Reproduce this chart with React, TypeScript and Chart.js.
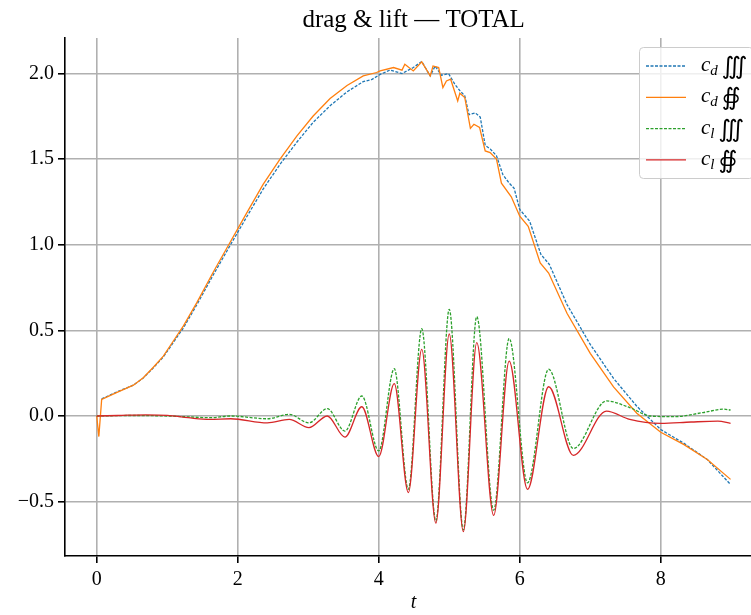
import React, { useEffect, useRef } from "react";
import { Chart, registerables } from "chart.js";

Chart.register(...registerables);

const TITLE = "drag & lift — TOTAL";
const X_LABEL = "t";
const X_TICKS = [0, 2, 4, 6, 8];
const Y_TICKS = [-0.5, 0, 0.5, 1.0, 1.5, 2.0];
const X_MIN = -0.45;
const X_MAX = 9.28;
const Y_MIN = -0.8175;
const Y_MAX = 2.2075;

const seriesLabels = ["c_d ∭", "c_d ∯", "c_l ∭", "c_l ∯"];
const seriesColors = ["#1f77b4", "#ff7f0e", "#2ca02c", "#d62728"];

// c_d volume (dashed blue)
const tCdVol = [0.07, 0.28, 0.52, 0.66, 0.8, 0.945, 1.087, 1.23, 1.42, 1.65, 1.89, 2.13, 2.36, 2.6, 2.84, 3.07, 3.31, 3.55, 3.78, 3.9, 4.02, 4.16, 4.33, 4.49, 4.61, 4.73, 4.8, 4.89, 4.99, 5.08, 5.15, 5.22, 5.28, 5.37, 5.44, 5.51, 5.58, 5.67, 5.76, 5.85, 5.92, 6.0, 6.14, 6.3, 6.42, 6.67, 7.0, 7.33, 7.66, 8.0, 8.33, 8.66, 8.99];
const cdVol = [0.1, 0.14, 0.18, 0.222, 0.28, 0.345, 0.43, 0.515, 0.65, 0.822, 0.995, 1.165, 1.325, 1.47, 1.6, 1.715, 1.812, 1.893, 1.953, 1.965, 1.995, 2.02, 2.0, 2.035, 2.07, 1.986, 2.044, 1.99, 2.0, 1.937, 1.9, 1.87, 1.76, 1.77, 1.745, 1.58, 1.56, 1.52, 1.41, 1.36, 1.33, 1.206, 1.138, 0.944, 0.885, 0.651, 0.418, 0.22, 0.057, -0.079, -0.16, -0.254, -0.4];

// c_d surface (solid orange)
const tCdSurf = [0, 0.03, 0.07, 0.28, 0.52, 0.66, 0.8, 0.945, 1.087, 1.23, 1.42, 1.65, 1.89, 2.13, 2.36, 2.6, 2.84, 3.07, 3.31, 3.55, 3.78, 3.97, 4.02, 4.21, 4.33, 4.37, 4.49, 4.61, 4.73, 4.77, 4.85, 4.91, 4.96, 5.02, 5.12, 5.15, 5.22, 5.3, 5.35, 5.43, 5.51, 5.58, 5.67, 5.74, 5.88, 6.0, 6.12, 6.29, 6.41, 6.67, 7.0, 7.33, 7.66, 8.0, 8.33, 8.66, 8.99];
const cdSurf = [0, -0.12, 0.097, 0.137, 0.18, 0.224, 0.283, 0.35, 0.438, 0.526, 0.662, 0.838, 1.013, 1.188, 1.353, 1.5, 1.636, 1.752, 1.854, 1.93, 1.986, 2.006, 2.015, 2.035, 2.02, 2.054, 2.015, 2.068, 1.986, 2.044, 2.035, 1.918, 1.957, 1.967, 1.84, 1.885, 1.86, 1.68, 1.704, 1.685, 1.548, 1.538, 1.5, 1.36, 1.28, 1.167, 1.108, 0.894, 0.835, 0.6, 0.366, 0.17, 0.016, -0.095, -0.167, -0.254, -0.37];

// c_l volume (dashed green)
const tClVol = [0, 0.5, 1.0, 1.3, 1.6, 1.9, 2.42, 2.73, 3.01, 3.27, 3.52, 3.76, 4.0, 4.22, 4.42, 4.61, 4.81, 5.0, 5.2, 5.39, 5.63, 5.85, 6.11, 6.41, 6.76, 7.23, 7.56, 7.85, 8.18, 8.6, 8.89, 8.99];
const clVol = [0, 0.003, 0.0, -0.005, -0.01, 0.0, -0.016, 0.01, -0.04, 0.043, -0.088, 0.117, -0.204, 0.276, -0.428, 0.51, -0.613, 0.623, -0.665, 0.58, -0.55, 0.453, -0.39, 0.273, -0.19, 0.088, 0.049, 0.0, -0.004, 0.02, 0.04, 0.035];

// c_l surface (solid red)
const tClSurf = [0, 0.3, 0.7, 1.0, 1.3, 1.6, 1.9, 2.42, 2.73, 3.01, 3.27, 3.52, 3.76, 4.0, 4.22, 4.42, 4.61, 4.81, 5.0, 5.2, 5.39, 5.63, 5.85, 6.11, 6.41, 6.76, 7.23, 7.56, 8.0, 8.43, 8.81, 8.99];
const clSurf = [0, 0.003, 0.007, 0.004, -0.01, -0.02, -0.016, -0.04, -0.02, -0.068, 0.0, -0.123, 0.054, -0.237, 0.189, -0.447, 0.389, -0.626, 0.479, -0.675, 0.428, -0.58, 0.321, -0.428, 0.171, -0.23, 0.029, -0.02, -0.043, -0.035, -0.03, -0.043];

const FONT = "'Liberation Serif', 'DejaVu Serif', serif";
const DASH = [3, 1.5];

const pts = (ts: number[], vs: number[]) => ts.map((t, i) => ({ x: t, y: vs[i] }));

const overlayPlugin = {
  id: "overlay",
  afterDraw(chart: any) {
    const ctx = chart.ctx as CanvasRenderingContext2D;
    const xs = chart.scales.x;
    const tMax = tCdSurf[tCdSurf.length - 1];
    const cx = xs.getPixelForValue((0 + tMax) / 2);
    ctx.save();
    ctx.fillStyle = "#000";
    ctx.textAlign = "center";
    ctx.textBaseline = "alphabetic";
    ctx.font = `25px ${FONT}`;
    ctx.fillText(TITLE, cx, 27);
    ctx.font = `italic 20px ${FONT}`;
    ctx.textBaseline = "middle";
    ctx.fillText(X_LABEL, cx, 603);

    // legend
    const bx = 639.5, by = 47.5, bw = 114, bh = 131, r = 4;
    ctx.beginPath();
    ctx.moveTo(bx + r, by);
    ctx.lineTo(bx + bw - r, by);
    ctx.arcTo(bx + bw, by, bx + bw, by + r, r);
    ctx.lineTo(bx + bw, by + bh - r);
    ctx.arcTo(bx + bw, by + bh, bx + bw - r, by + bh, r);
    ctx.lineTo(bx + r, by + bh);
    ctx.arcTo(bx, by + bh, bx, by + bh - r, r);
    ctx.lineTo(bx, by + r);
    ctx.arcTo(bx, by, bx + r, by, r);
    ctx.closePath();
    ctx.fillStyle = "rgba(255,255,255,0.8)";
    ctx.fill();
    ctx.strokeStyle = "#cccccc";
    ctx.lineWidth = 1;
    ctx.stroke();

    chart.data.datasets.forEach((ds: any, i: number) => {
      const rowY = 66 + i * 31.3;
      ctx.beginPath();
      ctx.setLineDash(ds.borderDash || []);
      ctx.strokeStyle = ds.borderColor;
      ctx.lineWidth = ds.borderWidth;
      ctx.moveTo(646, rowY);
      ctx.lineTo(686, rowY);
      ctx.stroke();
      ctx.setLineDash([]);
      const label: string = ds.label;
      const m = label.match(/^(.)_(.)(.*)$/);
      let x = 701;
      ctx.fillStyle = "#000";
      ctx.textAlign = "left";
      ctx.textBaseline = "alphabetic";
      if (m) {
        ctx.font = `italic 21px ${FONT}`;
        ctx.fillText(m[1], x, rowY + 5);
        x += ctx.measureText(m[1]).width;
        ctx.font = `italic 15px ${FONT}`;
        ctx.fillText(m[2], x, rowY + 9);
        x += ctx.measureText(m[2]).width + 4;
        ctx.font = `24px 'DejaVu Sans', ${FONT}`;
        ctx.fillText(m[3].trim(), x, rowY + 8);
      } else {
        ctx.font = `20px ${FONT}`;
        ctx.fillText(label, x, rowY + 6);
      }
    });
    ctx.restore();
  },
};

export default function App() {
  const ref = useRef<HTMLCanvasElement | null>(null);
  useEffect(() => {
    if (!ref.current) return;
    const mk = (i: number, data: any[], dashed: boolean, smooth: boolean, order: number) => ({
      label: seriesLabels[i],
      data,
      borderColor: seriesColors[i],
      backgroundColor: seriesColors[i],
      borderWidth: 1.3,
      borderDash: dashed ? DASH : [],
      pointRadius: 0,
      fill: false,
      tension: 0,
      cubicInterpolationMode: smooth ? "monotone" : "default",
      order,
    });
    const chart = new Chart(ref.current, {
      type: "line",
      data: {
        datasets: [
          mk(0, pts(tCdVol, cdVol), true, false, 4),
          mk(1, pts(tCdSurf, cdSurf), false, false, 3),
          mk(2, pts(tClVol, clVol), true, true, 2),
          mk(3, pts(tClSurf, clSurf), false, true, 1),
        ] as any,
      },
      options: {
        animation: false,
        responsive: false,
        devicePixelRatio: 1,
        layout: { padding: { top: 38, left: 0, right: 0, bottom: 0 } },
        plugins: { legend: { display: false }, title: { display: false }, tooltip: { enabled: false } },
        scales: {
          x: {
            type: "linear",
            min: X_MIN,
            max: X_MAX,
            afterBuildTicks: (s: any) => {
              s.ticks = X_TICKS.map((v) => ({ value: v }));
            },
            afterFit: (s: any) => {
              s.height = 59;
            },
            grid: { color: "#b0b0b0", lineWidth: 1.6, tickColor: "#000", tickWidth: 1.6, tickLength: 7, drawTicks: true },
            border: { display: true, color: "#000", width: 1.6 },
            ticks: {
              color: "#000",
              font: { family: FONT, size: 20 },
              padding: 5,
              maxRotation: 0,
              autoSkip: false,
              callback: (v: any) => String(v),
            },
          },
          y: {
            type: "linear",
            min: Y_MIN,
            max: Y_MAX,
            afterBuildTicks: (s: any) => {
              s.ticks = Y_TICKS.map((v) => ({ value: v }));
            },
            afterFit: (s: any) => {
              s.width = 65;
            },
            grid: { color: "#b0b0b0", lineWidth: 1.6, tickColor: "#000", tickWidth: 1.6, tickLength: 7, drawTicks: true },
            border: { display: true, color: "#000", width: 1.6 },
            ticks: {
              color: "#000",
              font: { family: FONT, size: 20 },
              padding: 4,
              autoSkip: false,
              callback: (v: any) => (v < 0 ? "−" : "") + Math.abs(Number(v)).toFixed(1),
            },
          },
        },
      } as any,
      plugins: [overlayPlugin],
    });
    return () => chart.destroy();
  }, []);
  return (
    <div style={{ position: "absolute", left: 0, top: 0, width: 751, height: 615 }}>
      <canvas ref={ref} width={751} height={615} style={{ display: "block" }} />
    </div>
  );
}
